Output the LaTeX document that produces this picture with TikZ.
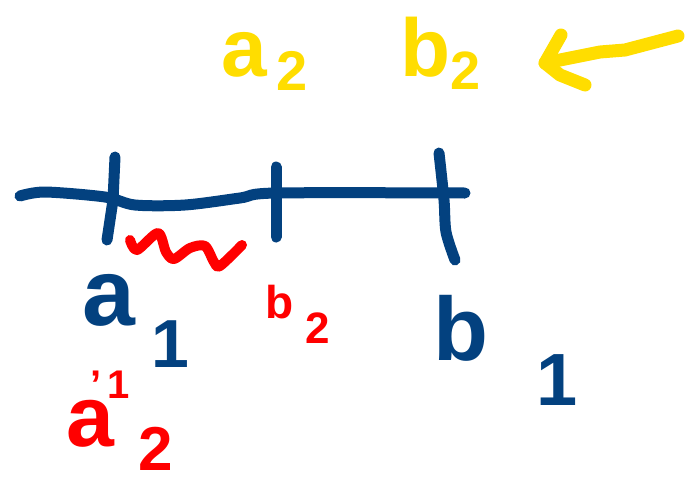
\documentclass[tikz,border=0pt]{standalone}
\usepackage{fontspec}
\setmainfont{Liberation Sans}
\usetikzlibrary{arrows.meta}

\definecolor{penblue}{RGB}{3,65,127}
\definecolor{penyellow}{RGB}{255,221,0}
\definecolor{penred}{RGB}{255,0,0}

\begin{document}
\begin{tikzpicture}[
    x=1pt, y=-1pt,
    pen/.style={line width=#1, line cap=round, line join=round},
    axis/.style={pen=11pt, draw=penblue},
    wave/.style={pen=10pt, draw=penred},
    hint/.style={pen=13pt, draw=penyellow},
    lab/.style={inner sep=0pt, anchor=base west, font=\bfseries\fontsize{#1}{#1}\selectfont},
    ylab/.style={lab=#1, text=penyellow},
    blab/.style={lab=#1, text=penblue},
    rlab/.style={lab=#1, text=penred}
]
\useasboundingbox (0,0) rectangle (685,482);

% the line and its three marks
\draw[axis] plot[smooth] coordinates {(20,196) (45,192) (105,197) (135,205) (185,205) (240,198) (276,193) (465,193)};
\draw[axis] (115,157) -- (113,200) -- (107,240);
\draw[axis] (276,167) -- (276,237);
\draw[axis] plot[smooth] coordinates {(439,153) (444,200) (446,232) (455,260)};

% red wave under the first part
\draw[wave] plot[smooth] coordinates {(130,240) (137,250) (158,233) (166,252) (174,259) (190,248) (205,246) (214,262) (220,266) (242,245)};

% labels of the marks
\node[blab=95] (a1) at (82,325) {a\raisebox{-0.45em}{\kern16pt\fontsize{68}{68}\selectfont 1}};
\node[blab=90] (b1) at (433,360) {b\raisebox{-0.5em}{\kern48pt\fontsize{74}{74}\selectfont 1}};
\node[rlab=46] (b2) at (265,318) {b\raisebox{-0.55em}{\kern12pt\fontsize{44}{44}\selectfont 2}};
\node[rlab=86] (a2) at (66,446) {a\llap{\raisebox{0.55em}{\fontsize{40}{40}\selectfont '\kern6pt1}\kern-16pt}\raisebox{-0.28em}{\kern24pt\fontsize{62}{62}\selectfont 2}};

% yellow note and its arrow
\node[ylab=82] (a2top) at (221,76) {a\raisebox{-0.18em}{\kern10pt\fontsize{56}{56}\selectfont 2}};
\node[ylab=82] (b2top) at (400,76) {b\raisebox{-0.16em}{\fontsize{54}{54}\selectfont 2}};
\coordinate (tail) at (678,36);
\draw[hint] (tail) -- (625,50) -- (600,52) -- (545,63);
\draw[hint] (561,35) -- (545,63) -- (560,75) -- (585,85);

\end{tikzpicture}
\end{document}
